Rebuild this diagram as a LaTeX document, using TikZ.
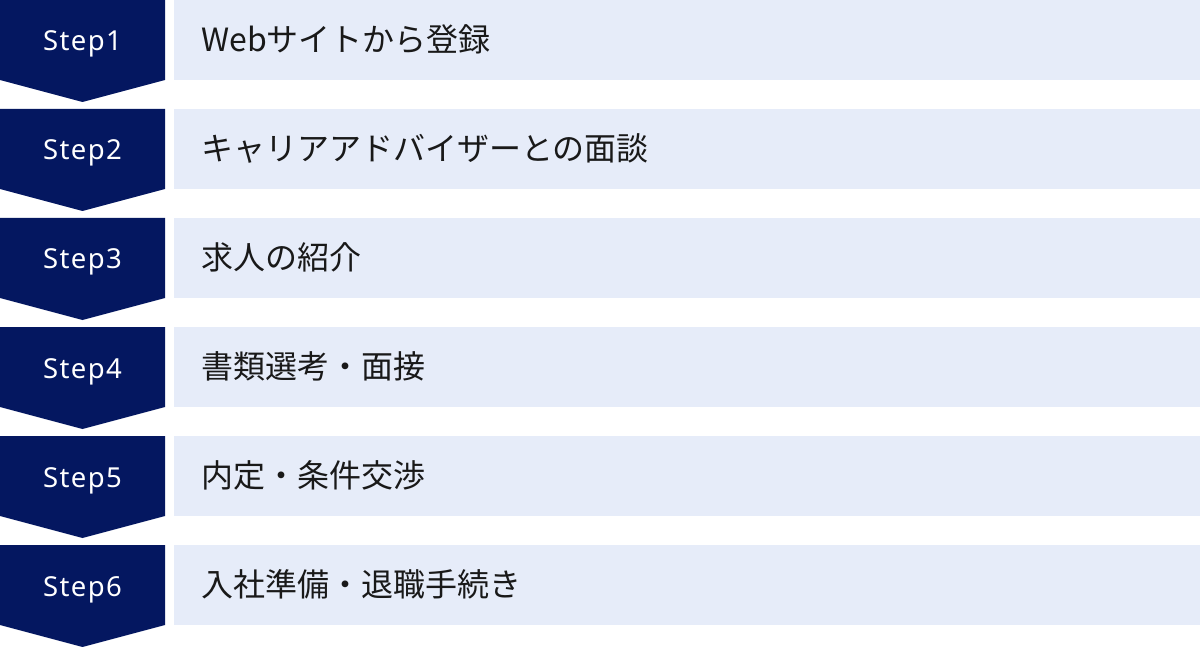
\documentclass[tikz,border=0pt]{standalone}
\usepackage{fontspec}
\setmainfont{Noto Sans CJK JP}
\newfontfamily\steplabelfont[LetterSpace=5]{Noto Sans}
\usepackage{tikz}
\usetikzlibrary{calc}
\definecolor{stepnavy}{RGB}{4,23,96}
\definecolor{tasklight}{RGB}{230,236,249}

\begin{document}
\begin{tikzpicture}[x=1pt,y=-1pt]
                      \tikzstyle{steplabel}=[text=white,font=\steplabelfont\fontsize{27.5pt}{28pt}\selectfont,inner sep=0pt,text height=30pt,text depth=8pt]
                      \tikzstyle{taskbox}=[anchor=north west,fill=tasklight,minimum width=1026pt,minimum height=80pt,text width=972pt,inner xsep=27pt,inner ysep=0pt,text height=30pt,text depth=8pt,align=left,text=black!90,font=\fontsize{32pt}{32pt}\selectfont]
                      \useasboundingbox (0,0) rectangle (1200,647);
                      % step arrows
                      \fill[stepnavy] (0,0) -- (165,0) -- (165,80) -- (82.5,102) -- (0,80) -- cycle;
                      \fill[stepnavy] (0,109) -- (165,109) -- (165,189) -- (82.5,211) -- (0,189) -- cycle;
                      \fill[stepnavy] (0,218) -- (165,218) -- (165,298) -- (82.5,320) -- (0,298) -- cycle;
                      \fill[stepnavy] (0,327) -- (165,327) -- (165,407) -- (82.5,429) -- (0,407) -- cycle;
                      \fill[stepnavy] (0,436) -- (165,436) -- (165,516) -- (82.5,538) -- (0,516) -- cycle;
                      \fill[stepnavy] (0,545) -- (165,545) -- (165,625) -- (82.5,647) -- (0,625) -- cycle;
                      \node[steplabel] (step1) at (82.5,40) {Step1};
                      \node[steplabel] (step2) at (82.5,149) {Step2};
                      \node[steplabel] (step3) at (82.5,258) {Step3};
                      \node[steplabel] (step4) at (82.5,367) {Step4};
                      \node[steplabel] (step5) at (82.5,476) {Step5};
                      \node[steplabel] (step6) at (82.5,585) {Step6};
                      % task boxes
                      \node[taskbox] (task1) at (174,0) {Webサイトから登録};
                      \node[taskbox] (task2) at (174,109) {キャリアアドバイザーとの面談};
                      \node[taskbox] (task3) at (174,218) {求人の紹介};
                      \node[taskbox] (task4) at (174,327) {書類選考・面接};
                      \node[taskbox] (task5) at (174,436) {内定・条件交渉};
                      \node[taskbox] (task6) at (174,545) {入社準備・退職手続き};
                  \end{tikzpicture}
\end{document}
